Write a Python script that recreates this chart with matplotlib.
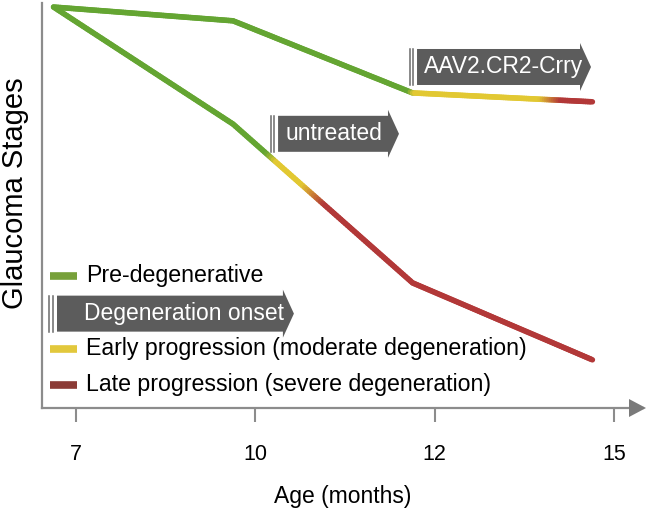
import numpy as np
import matplotlib
matplotlib.use('Agg')
import matplotlib.pyplot as plt
from matplotlib.collections import LineCollection
from matplotlib.colors import to_rgb
from matplotlib.patches import Polygon

plt.rcParams['font.family'] = ['Liberation Sans', 'DejaVu Sans']

# x axis: evenly spaced age ticks
age_pos = [0, 1, 2, 3]
age_labels = ['7', '10', '12', '15']

# curve vertices (x in tick units, y = stage score 0..100)
line_x = [-0.125, 0.876, 1.877, 2.88]
treated_y = [99.0, 95.6, 77.8, 75.6]
untreated_y = [99.0, 70.1, 30.9, 11.9]

# colour stages along each curve: x where each stage colour is reached
treated_stage_x = [1.86, 1.89, 2.59, 2.71]
untreated_stage_x = [1.065, 1.12, 1.266, 1.389]

# colours
c_green, c_yellow, c_red = '#64a532', '#e2c832', '#b23838'
stage_cols = [c_green, c_yellow, c_yellow, c_red]
leg_cols = ['#77a03a', '#e2c83c', '#8b3b36']
leg_labels = ['Pre-degenerative', 'Early progression (moderate degeneration)',
              'Late progression (severe degeneration)']
tag_col = '#5c5c5c'
axis_col = '#8c8c8c'

fig = plt.figure(figsize=(6.47, 5.11), dpi=100)
ax = fig.add_axes([42 / 647, 103 / 511, 601 / 647, 405 / 511])
ax.set_xlim(-34 / 179.3, 567 / 179.3)
ax.set_ylim(0, 100)


def gradient_line(xs, ys, stops):
    # split each leg into short pieces so the colour can change along x
    px, py = [], []
    for i in range(len(xs) - 1):
        t = np.linspace(0, 1, 80, endpoint=(i == len(xs) - 2))
        px.extend(xs[i] + t * (xs[i + 1] - xs[i]))
        py.extend(ys[i] + t * (ys[i + 1] - ys[i]))
    pts = np.column_stack([px, py])
    segs = np.stack([pts[:-1], pts[1:]], axis=1)
    mid = segs[:, :, 0].mean(axis=1)
    rgb = np.array([to_rgb(c) for c in stage_cols])
    cols = np.column_stack([np.interp(mid, stops, rgb[:, k]) for k in range(3)])
    lc = LineCollection(segs, colors=cols, linewidths=4, capstyle='round', zorder=3)
    ax.add_collection(lc)


gradient_line(line_x, treated_y, treated_stage_x)
gradient_line(line_x, untreated_y, untreated_stage_x)

u = 1 / 179.3  # x units per pixel
v = 100 / 405  # y units per pixel


def draw_tag(x0, x1, yc, label, tx):
    h = 36 * v
    e = 6 * v
    hl = 11 * u
    verts = [(x0, yc - h / 2), (x1, yc - h / 2), (x1, yc - h / 2 - e), (x1 + hl, yc),
             (x1, yc + h / 2 + e), (x1, yc + h / 2), (x0, yc + h / 2)]
    ax.add_patch(Polygon(verts, closed=True, fc=tag_col, ec='none', zorder=4, clip_on=False))
    for off in (-7.5, -4):
        ax.plot([x0 + off * u] * 2, [yc - h / 2, yc + h / 2], color='#6a6a6a', lw=1.1,
                zorder=4, clip_on=False)
    ax.text(tx, yc, label, color='white', fontsize=16.5, ha='center', va='center', zorder=5)


draw_tag(1.127, 1.740, 67.7, 'untreated', 1.437)
draw_tag(1.902, 2.811, 84.2, 'AAV2.CR2-Crry', 2.385)
draw_tag(-0.106, 1.154, 23.3, 'Degeneration onset', 0.603)

# legend built by hand
leg_y = [32.6, 14.6, 5.7]
for col, lab, y in zip(leg_cols, leg_labels, leg_y):
    ax.plot([-0.145, 0.006], [y, y], color=col, lw=5.5, solid_capstyle='butt', zorder=3)
    ax.text(0.056, y, lab, fontsize=16.7, ha='left', va='center', zorder=5)

# axes styling
for s in ['top', 'right']:
    ax.spines[s].set_visible(False)
for s in ['left', 'bottom']:
    ax.spines[s].set_color(axis_col)
    ax.spines[s].set_linewidth(1.6)
ax.add_patch(Polygon([(1.005, 0), (1.0 - 14 / 601, 9 / 405), (1.0 - 14 / 601, -9 / 405)],
                     closed=True, transform=ax.transAxes, fc='#7a7a7a', ec='none',
                     clip_on=False, zorder=5))

ax.set_xticks(age_pos)
ax.set_xticklabels(age_labels)
ax.tick_params(axis='x', length=10, width=1.5, color=axis_col, labelsize=15.5, pad=16)
ax.set_yticks([])
ax.set_xlabel('Age (months)', fontsize=16.5, labelpad=14)
ax.set_ylabel('Glaucoma Stages', fontsize=21, va='center')
ax.yaxis.set_label_coords(-0.045, 0.53)

fig.savefig('out.png', dpi=100)
